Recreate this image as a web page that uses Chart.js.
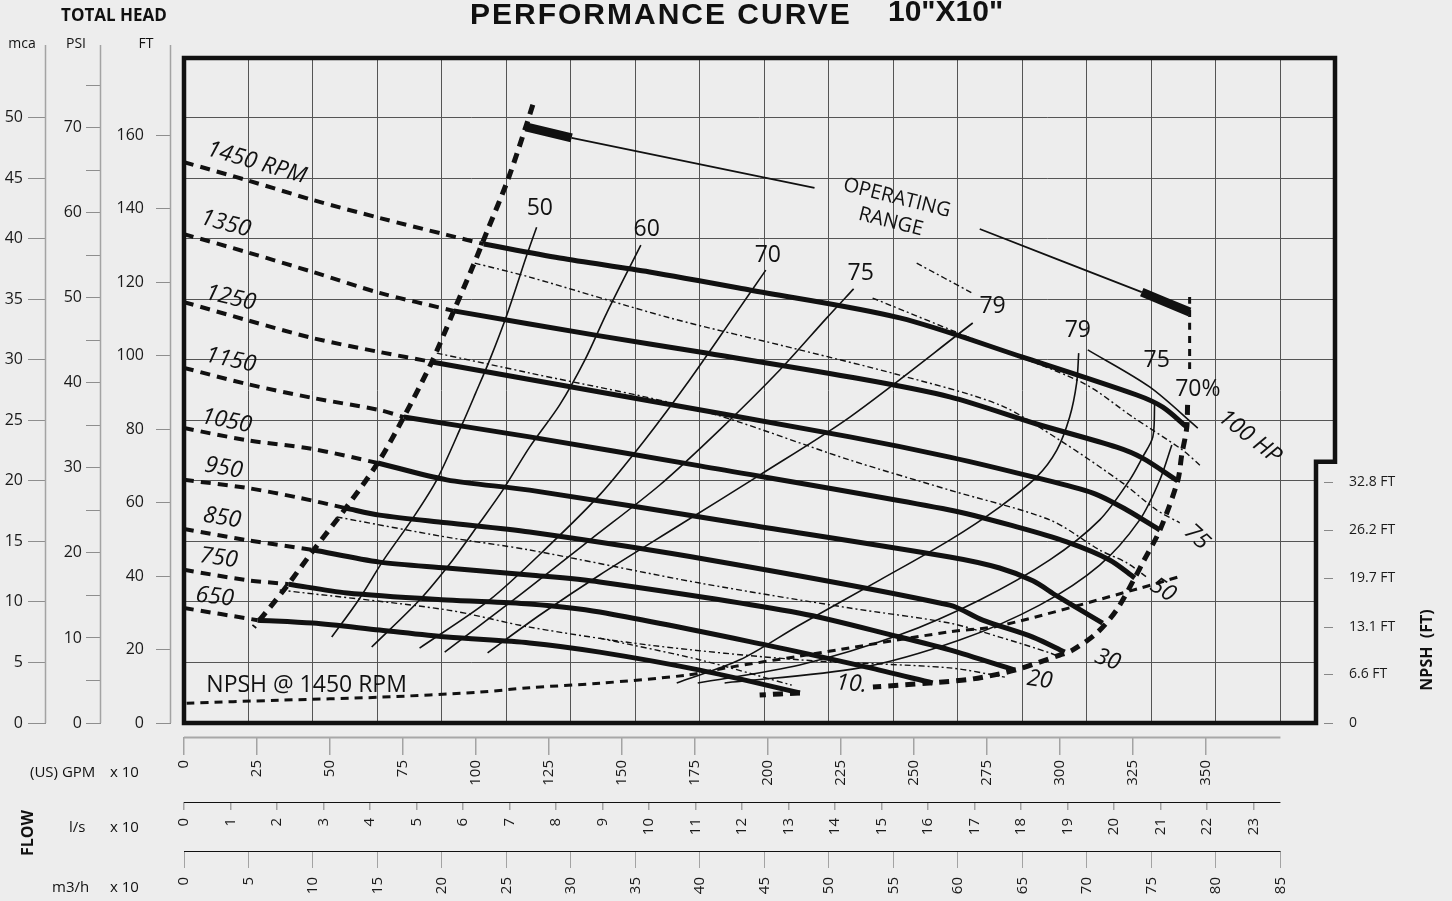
<!DOCTYPE html>
<html>
<head>
<meta charset="utf-8">
<title>Performance curve 10"X10"</title>
<script src="https://cdn.jsdelivr.net/npm/chart.js@4.4.1/dist/chart.umd.min.js"></script>
<style>
  html, body { margin: 0; padding: 0; background: #ededed; }
  canvas { display: block; }
</style>
</head>
<body>
<canvas id="pumpChart" width="1452" height="901"></canvas>
<script>
// ---- tick values of the axes ----
const gpmTicks = [0, 25, 50, 75, 100, 125, 150, 175, 200, 225, 250, 275, 300, 325, 350];
const lsTicks = [0, 1, 2, 3, 4, 5, 6, 7, 8, 9, 10, 11, 12, 13, 14, 15, 16, 17, 18, 19, 20, 21, 22, 23];
const m3Ticks = [0, 5, 10, 15, 20, 25, 30, 35, 40, 45, 50, 55, 60, 65, 70, 75, 80, 85];
const ftTicks = [0, 20, 40, 60, 80, 100, 120, 140, 160];
const psiTicks = [0, 5, 10, 15, 20, 25, 30, 35, 40, 45, 50, 55, 60, 65, 70, 75];
const mcaTicks = [0, 5, 10, 15, 20, 25, 30, 35, 40, 45, 50];
const npshTicks = [0, 6.6, 13.1, 19.7, 26.2, 32.8];

// ---- head curves: [GPM x10, head FT] ; dashed part then solid part ----
const h1450d = [[0, 152.7], [21.5, 147.8], [44.1, 142.4], [67, 137.5], [90, 132.9], [102.7, 130.4]];
const h1450 = [[102.7, 130.4], [128.7, 126.6], [159.5, 122.8], [193.8, 117.9], [245.2, 110.3], [287.3, 99.6], [326.4, 89.3], [335.3, 86.0], [343.5, 80.6]];
const h1350d = [[0, 133.1], [21.5, 128.2], [44.1, 122.8], [67, 117.1], [92.4, 112.2]];
const h1350 = [[92.4, 112.2], [142.4, 105.4], [176.7, 101.0], [228.1, 94.2], [262.3, 88.8], [292.1, 81.4], [319.5, 75.1], [328.4, 72.1], [340.4, 65.9]];
const h1250d = [[0, 114.6], [21.5, 109.7], [44.1, 104.8], [67, 101.0], [84.9, 98.3]];
const h1250 = [[84.9, 98.3], [142.4, 90.1], [228.1, 77.9], [262.3, 72.4], [290.8, 67.0], [311.4, 62.6], [323, 58.0], [334.3, 52.5]];
const h1150d = [[0, 96.7], [21.5, 92.3], [44.1, 88.5], [67, 85.2], [75.3, 83.3]];
const h1150 = [[75.3, 83.3], [118.4, 77.9], [176.7, 70.0], [262.3, 58.0], [285.3, 53.4], [302.4, 49.3], [317.1, 44.4], [325.7, 39.5]];
const h1050d = [[0, 80.3], [21.5, 77.0], [44.1, 74.6], [66.4, 70.8]];
const h1050 = [[66.4, 70.8], [90, 66.2], [118.4, 63.4], [193.8, 53.9], [262.3, 45.2], [279.4, 42.2], [290.8, 38.7], [299.0, 34.6], [314.7, 27.2]];
const h950d = [[0, 66.2], [21.5, 64.0], [39.6, 61.3], [55.4, 58.5]];
const h950 = [[55.4, 58.5], [67, 56.6], [90, 54.5], [118.4, 52.0], [180.1, 44.4], [262.3, 32.1], [273.6, 28.0], [290.8, 23.4], [301.7, 19.3]];
const h850d = [[0, 52.8], [21.5, 49.8], [44.4, 47.1]];
const h850 = [[44.4, 47.1], [67, 43.8], [90, 42.2], [118.4, 40.3], [142.4, 38.4], [211, 29.9], [245.2, 23.4], [262.3, 19.9], [284.6, 14.4]];
const h750d = [[0, 41.7], [21.5, 38.9], [35.9, 37.8]];
const h750 = [[35.9, 37.8], [55.8, 35.4], [90, 33.5], [118.4, 32.4], [142.4, 30.2], [199.6, 21.2], [233.9, 15.2], [256.5, 10.9]];
const h650d = [[0, 31.3], [25.2, 28.0]];
const h650 = [[25.2, 28.0], [44.1, 27.2], [67, 25.3], [90, 23.4], [118.4, 21.8], [142.4, 19.3], [176.7, 14.4], [211, 8.2]];

// minimum flow line (left) and end of curves (right)
const minFlow = [[119.5, 168.3], [117.1, 162.3], [110.9, 147.8], [104.0, 134.2], [98.9, 124.2], [92.1, 111.6], [84.9, 98.3], [75.3, 83.3], [66.4, 70.8], [55.4, 58.5], [44.4, 47.1], [34.2, 36.2], [23.9, 26.1]];
const endTop = [[344.5, 116.0], [344.5, 95.3]];
const endMid = [[343.8, 86.6], [343.5, 80.3], [341.8, 73.0], [340.4, 65.9], [334.3, 52.5], [328.4, 43.6], [325.7, 39.5], [319.5, 30.8], [312.7, 24.5], [304.5, 19.9], [300.0, 18.5], [284.6, 14.4], [270.2, 12.0], [255.5, 10.9], [236.0, 9.8]];
const endLow = [[211.0, 8.2], [197.2, 7.6]];

// operating range
const opLeftBar = [[117.1, 162.3], [132.8, 159.3]];
const opLeftLine = [[132.8, 159.3], [216.0, 145.7]];
const opRightLine = [[272.6, 134.5], [328.1, 117.3]];
const opRightBar = [[328.1, 117.3], [344.5, 111.9]];

// efficiency curves (%)
const eff50 = [[120.8, 135.0], [117.7, 128.0], [110.6, 111.1], [104.7, 98.8], [99.9, 89.8], [95.5, 81.7], [86.6, 66.2], [78.0, 55.3], [68.4, 44.4], [59.8, 33.5], [50.6, 23.4]];
const eff60 = [[156.5, 130.1], [144.8, 111.6], [137.3, 98.8], [128.7, 86.6], [118.4, 75.1], [109.2, 63.4], [101.3, 54.5], [92.1, 44.4], [80.7, 33.5], [64.3, 20.7]];
const eff70 = [[199.3, 123.3], [188.0, 110.3], [173.2, 93.4], [157.8, 77.0], [142.4, 62.1], [125.3, 48.5], [104.7, 33.5], [80.7, 20.4]];
const eff75 = [[229.4, 118.2], [220.2, 110.3], [204.1, 96.1], [183.5, 79.8], [163.0, 64.8], [139.0, 49.8], [115.0, 34.8], [89.3, 19.3]];
const eff79 = [[270.2, 108.9], [228.1, 83.3], [197.2, 67.5], [169.8, 53.9], [142.4, 40.3], [121.9, 29.4], [104.0, 19.1]];
const eff79r = [[306.5, 100.7], [305.8, 92.6], [303.4, 83.3], [299.0, 74.3], [292.1, 67.0], [279.4, 58.8], [262.3, 49.8], [238.3, 38.9], [210.9, 26.7], [190.4, 17.2], [168.8, 10.9]];
const eff75top = [[309.6, 101.6], [330.8, 91.5], [347.3, 80.3]];
const eff75r = [[332.5, 86.6], [331.9, 77.9], [328.4, 72.4], [324.0, 66.2], [313.7, 55.3], [296.6, 44.4], [272.6, 33.5], [245.2, 24.0], [210.9, 15.8], [176.0, 10.9]];
const eff70r = [[338.4, 75.7], [334.3, 66.2], [327.4, 55.3], [313.7, 43.0], [293.1, 32.1], [265.7, 22.6], [231.5, 15.0], [185.2, 10.9]];

// power curves (HP)
const hp100 = [[235.9, 115.7], [273.6, 103.5], [307.9, 92.6], [325.0, 83.3], [342.1, 74.3], [348.0, 70.2]];
const hp100b = [[251.0, 125.2], [269.9, 117.1]];
const hp75 = [[99.6, 125.2], [118.4, 121.4], [166.4, 110.3], [210.9, 101.6], [245.2, 94.7], [279.4, 86.6], [300.0, 77.0], [321.6, 65.3], [333.2, 58.0], [341.1, 54.5]];
const hp50 = [[86.6, 100.7], [118.4, 95.3], [176.7, 85.2], [228.1, 71.6], [262.3, 63.4], [296.6, 55.3], [313.7, 47.1], [323.0, 43.6], [329.8, 39.7]];
const hp30 = [[52.3, 56.1], [90, 50.6], [118.4, 47.1], [176.7, 38.1], [228.1, 31.3], [262.3, 27.2], [279.4, 23.4], [296.6, 19.1], [300.0, 18.0]];
const hp20 = [[32.8, 36.2], [90, 30.8], [118.4, 26.1], [159.5, 21.2], [210.9, 17.2], [262.3, 15.0], [281.2, 12.5]];
const hp10 = [[142.4, 23.1], [176.7, 17.2], [208.2, 10.3]];

// NPSH required at 1450 RPM (FT, right axis)
const npshCurve = [[0.9, 2.7], [32.8, 3.1], [67, 3.5], [101.3, 4.2], [118.4, 4.8], [142.4, 5.4], [172.2, 6.5], [185.9, 7.5], [211, 9.1], [262.3, 12.4], [279.4, 13.2], [327.4, 18.3], [341.1, 19.9]];

// labels: text, GPM x10, FT, angle
const rpmLabels = [
  ['1450 RPM', 24.9, 152.5, 16], ['1350', 14.3, 135.9, 15], ['1250', 16.0, 115.7, 13],
  ['1150', 16.0, 98.8, 12], ['1050', 14.6, 82.2, 11], ['950', 13.6, 69.4, 10],
  ['850', 13.0, 55.8, 9], ['750', 11.9, 44.9, 8], ['650', 10.5, 34.3, 7]
];
const effLabels = [['50', 121.9, 140.2], ['60', 158.5, 134.5], ['70', 200.0, 127.4], ['75', 231.8, 122.5],
  ['79', 277.0, 113.3], ['79', 306.2, 107.0], ['75', 333.2, 98.8], ['70%', 347.3, 90.9]];
const hpLabels = [['100 HP', 365.1, 77.9, 38], ['75', 346.9, 50.6, 43], ['50', 335.3, 36.2, 33],
  ['30', 316.4, 17.2, 20], ['20', 293.1, 11.7, 8], ['10.', 228.7, 10.6, 5]];
const rangeLabels = [['OPERATING', 244.2, 142.9, 14], ['RANGE', 242.1, 136.4, 14]];

const FONT = '"Open Sans", "DejaVu Sans", sans-serif';
const INK = '#111';
const BG = '#ededed';

const toXY = pts => pts.map(p => ({ x: p[0], y: p[1] }));

function curve(pts, width, dash, axis) {
  return {
    data: toXY(pts),
    showLine: true,
    borderColor: INK,
    borderWidth: width,
    borderDash: dash || [],
    borderCapStyle: 'butt',
    pointRadius: 0,
    tension: 0.3,
    fill: false,
    xAxisID: 'x',
    yAxisID: axis || 'y'
  };
}

const headDash = [10, 7];
const dashDot = [6, 3, 2, 3];
const datasets = [];
[[h1450d, h1450], [h1350d, h1350], [h1250d, h1250], [h1150d, h1150], [h1050d, h1050],
 [h950d, h950], [h850d, h850], [h750d, h750], [h650d, h650]].forEach(pair => {
  datasets.push(curve(pair[0], 4, headDash));
  datasets.push(curve(pair[1], 5));
});
datasets.push(curve(minFlow, 5, headDash));
datasets.push(curve(endTop, 3, [7, 6]));
datasets.push(curve(endMid, 5, headDash));
datasets.push(curve(endLow, 5, headDash));
datasets.push(curve(opLeftBar, 9), curve(opLeftLine, 1.8), curve(opRightLine, 1.8), curve(opRightBar, 9));
[eff50, eff60, eff70, eff75, eff79, eff79r, eff75top, eff75r, eff70r].forEach(e => datasets.push(curve(e, 1.6)));
[hp100, hp100b, hp75, hp50, hp30, hp20, hp10].forEach(h => datasets.push(curve(h, 1.4, dashDot)));
datasets.push(curve(npshCurve, 3, [8, 6], 'npsh'));

function fixedTicks(list) {
  return scale => { scale.ticks = list.map(v => ({ value: v })); };
}
const tickFont = { family: FONT, size: 16 };
const botFont = { family: FONT, size: 15 };
const npshFont = { family: FONT, size: 14 };

function spacer(pos, size) {
  return {
    type: 'linear', position: pos, weight: 0, min: 0, max: 1,
    grid: { display: false, drawTicks: false }, border: { display: false },
    ticks: { display: false },
    afterFit: s => { if (pos === 'left') s.width = size; else s.height = size; }
  };
}

// frame notch on the lower right
const notchFt = 35.5;   // NPSH axis value of the step
const notchW = 19;

function drawText(ctx, text, x, y, font, angle, align) {
  ctx.save();
  ctx.translate(x, y);
  ctx.rotate((angle || 0) * Math.PI / 180);
  ctx.font = font;
  ctx.fillStyle = INK;
  ctx.textAlign = align || 'center';
  ctx.textBaseline = 'middle';
  ctx.fillText(text, 0, 0);
  ctx.restore();
}

const decor = {
  id: 'decor',
  beforeDraw(chart) {
    const ctx = chart.ctx;
    ctx.save();
    ctx.fillStyle = BG;
    ctx.fillRect(0, 0, chart.width, chart.height);
    ctx.restore();
  },
  beforeDatasetsDraw(chart) {
    const ctx = chart.ctx, a = chart.chartArea;
    const ny = chart.scales.npsh.getPixelForValue(notchFt);
    ctx.save();
    ctx.fillStyle = BG;
    ctx.fillRect(a.right - notchW, ny, notchW + 2, a.bottom - ny + 2);
    ctx.restore();
  },
  afterDatasetsDraw(chart) {
    const ctx = chart.ctx, a = chart.chartArea, s = chart.scales;
    const ny = s.npsh.getPixelForValue(notchFt);
    // plot frame
    ctx.save();
    ctx.strokeStyle = INK;
    ctx.lineWidth = 4.5;
    ctx.lineJoin = 'miter';
    ctx.beginPath();
    ctx.moveTo(a.left, a.top);
    ctx.lineTo(a.right, a.top);
    ctx.lineTo(a.right, ny);
    ctx.lineTo(a.right - notchW, ny);
    ctx.lineTo(a.right - notchW, a.bottom);
    ctx.lineTo(a.left, a.bottom);
    ctx.closePath();
    ctx.stroke();
    ctx.restore();

    const px = v => s.x.getPixelForValue(v);
    const py = v => s.y.getPixelForValue(v);
    rpmLabels.forEach(l => drawText(ctx, l[0], px(l[1]), py(l[2]), 'italic 23px ' + FONT, l[3]));
    effLabels.forEach(l => drawText(ctx, l[0], px(l[1]), py(l[2]), '23px ' + FONT, 0));
    hpLabels.forEach(l => drawText(ctx, l[0], px(l[1]), py(l[2]), 'italic 23px ' + FONT, l[3]));
    rangeLabels.forEach(l => drawText(ctx, l[0], px(l[1]), py(l[2]), '20px ' + FONT, l[3]));
    drawText(ctx, 'NPSH @ 1450 RPM', px(42.0), py(10.3), '23px ' + FONT, 0);
  },
  afterDraw(chart) {
    const ctx = chart.ctx, a = chart.chartArea, s = chart.scales;
    ctx.save();
    // left axis lines
    ctx.strokeStyle = '#a3a3a3';
    ctx.lineWidth = 1.5;
    ['y', 'psi', 'mca'].forEach(id => {
      const x = Math.round(s[id].right) - 0.5;
      ctx.beginPath();
      ctx.moveTo(x, 45);
      ctx.lineTo(x, a.bottom);
      ctx.stroke();
    });
    // bottom axis lines
    const xEnd = s.m3.getPixelForValue(85);
    [['x', '#a8a8a8'], ['ls', '#111'], ['m3', '#111']].forEach(d => {
      const y = Math.round(s[d[0]].top) + 0.5;
      ctx.strokeStyle = d[1];
      ctx.lineWidth = d[0] === 'x' ? 2 : 1.2;
      ctx.beginPath();
      ctx.moveTo(a.left, y);
      ctx.lineTo(xEnd, y);
      ctx.stroke();
    });
    // NPSH tick marks inside the notch
    ctx.strokeStyle = '#888';
    ctx.lineWidth = 1;
    npshTicks.forEach(v => {
      const y = Math.round(s.npsh.getPixelForValue(v)) + 0.5;
      ctx.beginPath();
      ctx.moveTo(a.right - 11, y);
      ctx.lineTo(a.right - 2, y);
      ctx.stroke();
    });
    ctx.restore();

    // titles and axis captions
    ctx.save();
    ctx.font = 'bold 30px "Liberation Sans", Arial, sans-serif';
    ctx.fillStyle = INK;
    ctx.textBaseline = 'alphabetic';
    ctx.textAlign = 'left';
    ctx.letterSpacing = '2px';
    ctx.fillText('PERFORMANCE CURVE', 470, 24);
    ctx.letterSpacing = '0px';
    ctx.fillText('10"X10"', 888, 21);
    ctx.restore();

    drawText(ctx, 'TOTAL HEAD', 114, 16, 'bold 17px ' + FONT, 0);
    drawText(ctx, 'mca', 22, 44, '14px ' + FONT, 0);
    drawText(ctx, 'PSI', 76, 44, '14px ' + FONT, 0);
    drawText(ctx, 'FT', 146, 44, '14px ' + FONT, 0);
    drawText(ctx, '(US) GPM', 30, 773, '15px ' + FONT, 0, 'left');
    drawText(ctx, 'x 10', 110, 773, '15px ' + FONT, 0, 'left');
    drawText(ctx, 'l/s', 69, 828, '15px ' + FONT, 0, 'left');
    drawText(ctx, 'x 10', 110, 828, '15px ' + FONT, 0, 'left');
    drawText(ctx, 'm3/h', 52, 888, '15px ' + FONT, 0, 'left');
    drawText(ctx, 'x 10', 110, 888, '15px ' + FONT, 0, 'left');
    drawText(ctx, 'FLOW', 28, 833, 'bold 16px ' + FONT, -90);
    drawText(ctx, 'NPSH  (FT)', 1427, 650, 'bold 16px ' + FONT, -90);
  }
};

const ctxPump = document.getElementById('pumpChart').getContext('2d');
const pumpChart = new Chart(ctxPump, {
  type: 'scatter',
  data: { datasets: datasets },
  options: {
    responsive: false,
    animation: false,
    devicePixelRatio: 1,
    layout: { padding: { top: 58, left: 0, right: 0, bottom: 0 } },
    plugins: { legend: { display: false }, tooltip: { enabled: false }, title: { display: false } },
    scales: {
      gapL: spacer('left', 13),
      gapB: spacer('bottom', 14),
      y: {
        type: 'linear', position: 'left', weight: 1, min: 0, max: 181.05,
        afterBuildTicks: fixedTicks(ftTicks),
        grid: { drawOnChartArea: false, tickLength: 15, tickColor: '#8e8e8e' },
        border: { display: false },
        ticks: { font: tickFont, color: '#1a1a1a', padding: 12 },
        afterFit: s => { s.width = 70; }
      },
      psi: {
        type: 'linear', position: 'left', weight: 2, min: 0, max: 78.2,
        afterBuildTicks: fixedTicks(psiTicks),
        grid: { drawOnChartArea: false, tickLength: 15, tickColor: '#8e8e8e' },
        border: { display: false },
        ticks: { font: tickFont, color: '#1a1a1a', padding: 4, callback: v => (v % 10 === 0 ? String(v) : '') },
        afterFit: s => { s.width = 55; }
      },
      mca: {
        type: 'linear', position: 'left', weight: 3, min: 0, max: 54.91,
        afterBuildTicks: fixedTicks(mcaTicks),
        grid: { drawOnChartArea: true, color: '#555', lineWidth: 1, tickLength: 18, tickColor: '#8e8e8e' },
        border: { display: false },
        ticks: { font: tickFont, color: '#1a1a1a', padding: 5 },
        afterFit: s => { s.width = 46; }
      },
      npsh: {
        type: 'linear', position: 'right', min: 0, max: 90.35,
        afterBuildTicks: fixedTicks(npshTicks),
        grid: { display: false, drawTicks: false },
        border: { display: false },
        ticks: { font: npshFont, color: '#1a1a1a', padding: 14, callback: v => (v === 0 ? '0' : v.toFixed(1) + ' FT') },
        afterFit: s => { s.width = 117; }
      },
      x: {
        type: 'linear', position: 'bottom', weight: 1, min: 0, max: 394.3,
        afterBuildTicks: fixedTicks(gpmTicks),
        grid: { drawOnChartArea: false, tickLength: 18, tickColor: '#a3a3a3', lineWidth: 1.5 },
        border: { display: false },
        ticks: { font: botFont, color: '#1a1a1a', padding: 5, minRotation: 90, maxRotation: 90, autoSkip: false },
        afterFit: s => { s.height = 65; }
      },
      ls: {
        type: 'linear', position: 'bottom', weight: 2, min: 0, max: 24.75,
        afterBuildTicks: fixedTicks(lsTicks),
        grid: { drawOnChartArea: false, tickLength: 8, tickColor: '#a3a3a3', lineWidth: 1.5 },
        border: { display: false },
        ticks: { font: botFont, color: '#1a1a1a', padding: 8, minRotation: 90, maxRotation: 90, autoSkip: false },
        afterFit: s => { s.height = 49; }
      },
      m3: {
        type: 'linear', position: 'bottom', weight: 3, min: 0, max: 89.23,
        afterBuildTicks: fixedTicks(m3Ticks),
        grid: { drawOnChartArea: true, color: '#555', lineWidth: 1, tickLength: 17, tickColor: '#a3a3a3' },
        border: { display: false },
        ticks: { font: botFont, color: '#1a1a1a', padding: 9, minRotation: 90, maxRotation: 90, autoSkip: false },
        afterFit: s => { s.height = 50; }
      }
    }
  },
  plugins: [decor]
});
</script>
</body>
</html>
